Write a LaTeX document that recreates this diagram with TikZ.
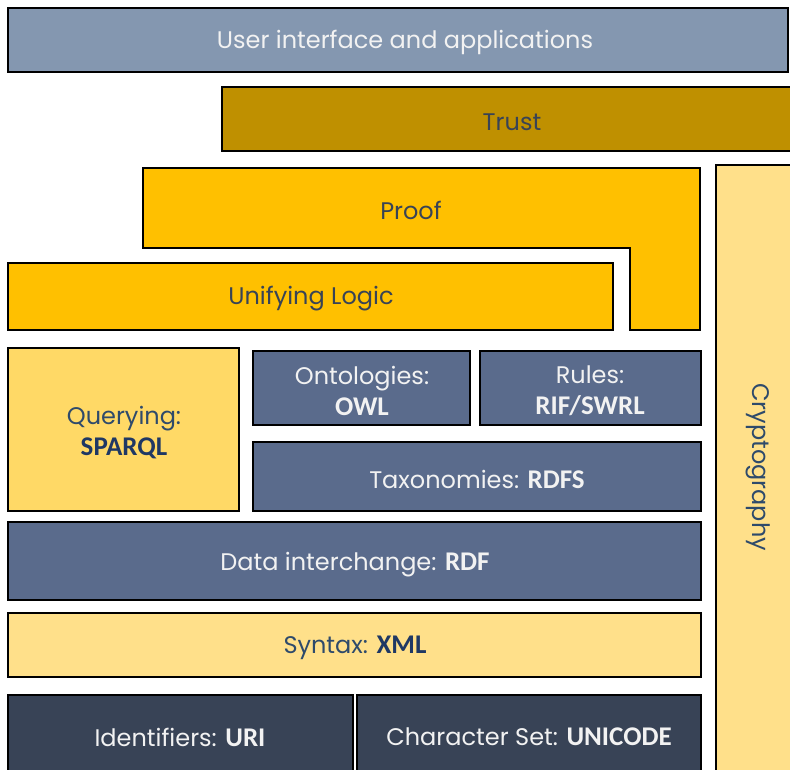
\documentclass[tikz,border=0pt]{standalone}
\usepackage{fontspec}
\setmainfont{Poppins}
\newfontfamily\boldfam{Carlito}
\definecolor{uicol}{HTML}{8497B0}
\definecolor{trustcol}{HTML}{BF9000}
\definecolor{goldcol}{HTML}{FFC000}
\definecolor{lightcol}{HTML}{FFE08A}
\definecolor{querycol}{HTML}{FFD966}
\definecolor{bluecol}{HTML}{5A6B8C}
\definecolor{darkcol}{HTML}{384356}
\definecolor{navytxt}{HTML}{1F3864}
\definecolor{navyreg}{HTML}{2E4A6B}
\definecolor{lighttxt}{HTML}{F2F2F2}
\newcommand{\bb}[1]{{\boldfam\bfseries\fontsize{27}{30}\selectfont #1}}
\begin{document}
\begin{tikzpicture}[x=1pt,y=-1pt,
  box/.style={draw=black, line width=1.6pt, rectangle, inner sep=0pt},
  lbl/.style={inner sep=0pt, font=\fontsize{24}{31}\selectfont, align=center},
  lightlbl/.style={lbl, text=lighttxt},
  navylbl/.style={lbl, text=navyreg},
  darklbl/.style={lbl, text=darkcol}]
\useasboundingbox (0,0) rectangle (790,769);
\clip (0,0) rectangle (790,769);
\fill[white] (0,0) rectangle (790,769);
% User interface
\node[box, fill=uicol, minimum width=780, minimum height=64] (ui) at (398,40) {};
\node[lightlbl] (uitxt) at (405,42) {User interface and applications};
% Trust
\node[box, fill=trustcol, minimum width=580, minimum height=64] (trust) at (512,119) {};
\node[darklbl] (trusttxt) at (512,122) {Trust};
% Proof L shape
\draw[line width=1.6pt, fill=goldcol] (143,168) -- (700,168) -- (700,330) -- (630,330) -- (630,248) -- (143,248) -- cycle;
\node[darklbl] (proof) at (411,210) {Proof};
% Unifying logic
\node[box, fill=goldcol, minimum width=605, minimum height=67] (logic) at (310.5,296.5) {};
\node[darklbl] (logictxt) at (311,299) {Unifying Logic};
% Cryptography
\node[box, fill=lightcol, minimum width=90, minimum height=620] (crypto) at (761,475) {};
\node[navylbl, rotate=-90] (cryptotxt) at (758,467) {Cryptography};
% Querying
\node[box, fill=querycol, minimum width=231, minimum height=163] (query) at (123.5,429.5) {};
\node[navylbl] (querytxt) at (124,433) {Querying:\\\bb{\textcolor{navytxt}{SPARQL}}};
% Ontologies
\node[box, fill=bluecol, minimum width=217, minimum height=74] (onto) at (361.5,388) {};
\node[lightlbl] (ontotxt) at (362,391) {Ontologies:\\\bb{OWL}};
% Rules
\node[box, fill=bluecol, minimum width=221, minimum height=74] (rules) at (590.5,388) {};
\node[lightlbl] (rulestxt) at (590,391) {Rules:\\\bb{RIF/SWRL}};
% Taxonomies
\node[box, fill=bluecol, minimum width=448, minimum height=69] (tax) at (477,476.5) {};
\node[lightlbl] (taxtxt) at (477,479) {Taxonomies: \bb{RDFS}};
% Data interchange
\node[box, fill=bluecol, minimum width=693, minimum height=78] (rdf) at (354.5,561) {};
\node[lightlbl] (rdftxt) at (355,565) {Data interchange: \bb{RDF}};
% Syntax
\node[box, fill=lightcol, minimum width=693, minimum height=64] (xml) at (354.5,645) {};
\node[navylbl] (xmltxt) at (355,648) {Syntax: \bb{\textcolor{navytxt}{XML}}};
% Identifiers
\node[box, fill=darkcol, minimum width=345, minimum height=80] (uri) at (180.5,735) {};
\node[lightlbl] (uritxt) at (180,737) {Identifiers: \bb{URI}};
% Character set
\node[box, fill=darkcol, minimum width=344, minimum height=80] (unicode) at (529,735) {};
\node[lightlbl] (unicodetxt) at (529,737) {Character Set: \bb{UNICODE}};
\end{tikzpicture}
\end{document}
